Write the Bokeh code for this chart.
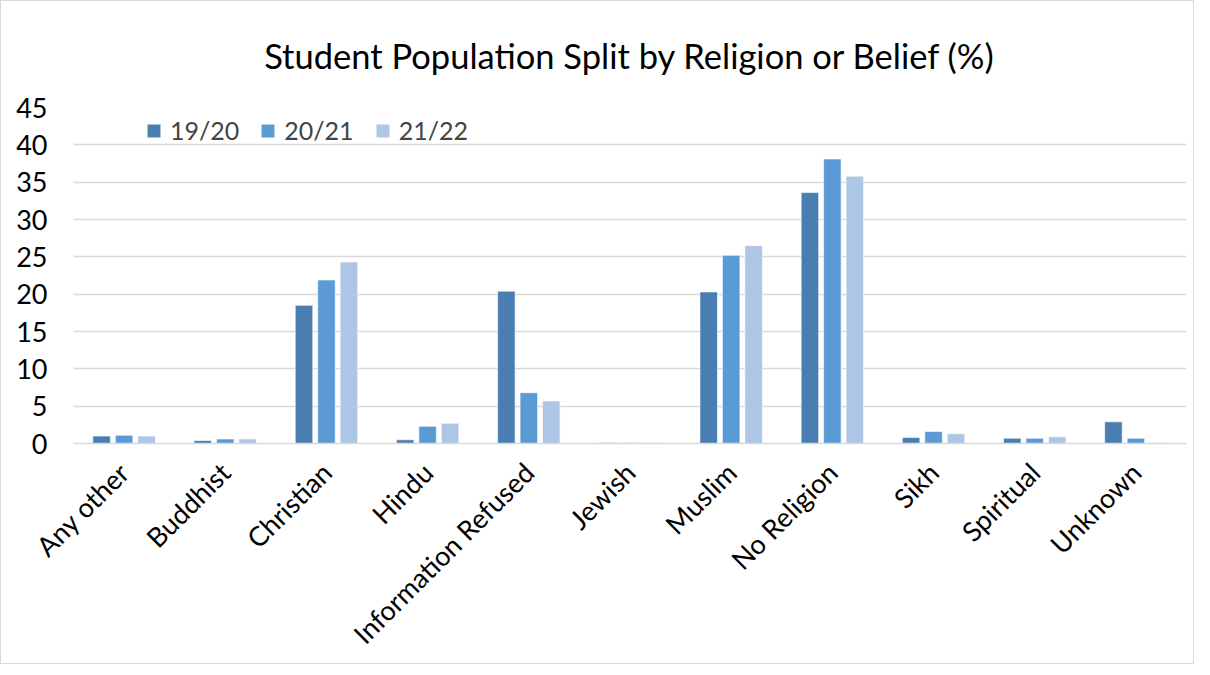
import math
from bokeh.plotting import figure
from bokeh.models import ColumnDataSource, Legend, LegendItem, FactorRange
from bokeh.transform import dodge
from bokeh.embed import file_html
from bokeh.resources import INLINE

categories = ["Any other", "Buddhist", "Christian", "Hindu", "Information Refused",
              "Jewish", "Muslim", "No Religion", "Sikh", "Spiritual", "Unknown"]
y1920 = [1.0, 0.4, 18.5, 0.5, 20.4, 0.1, 20.3, 33.6, 0.8, 0.7, 2.9]
y2021 = [1.1, 0.6, 21.9, 2.3, 6.8, 0.1, 25.2, 38.1, 1.6, 0.7, 0.7]
y2122 = [1.0, 0.6, 24.3, 2.7, 5.7, 0.1, 26.5, 35.8, 1.3, 0.9, 0.1]
series_names = ["19/20", "20/21", "21/22"]
colors = ["#4a7eb0", "#5b9bd5", "#adc6e6"]

src = ColumnDataSource(dict(cat=categories, a=y1920, b=y2021, c=y2122))

FONT = "Lato"
p = figure(x_range=FactorRange(*categories), y_range=(0, 45),
           width=1194, height=664, output_backend="svg", toolbar_location=None,
           min_border_left=72, min_border_right=9, min_border_top=106, min_border_bottom=222)
p.styles = {"border": "1px solid #d9d9d9"}

p.title.text = "Student Population Split by Religion or Belief (%)"
p.title.align = "center"
p.title.text_font = FONT
p.title.text_font_size = "34.5px"
p.title.text_font_style = "normal"
p.title.text_color = "#000000"
p.title.standoff = 63

renderers = []
for key, off, col in zip(["a", "b", "c"], [-0.222, 0.0, 0.222], colors):
    r = p.vbar(x=dodge("cat", off, range=p.x_range), top=key, width=0.173, source=src,
               fill_color=col, line_color="white", line_width=0.6)
    renderers.append(r)

legend = Legend(items=[LegendItem(label=n, renderers=[r]) for n, r in zip(series_names, renderers)],
                orientation="horizontal", location=(72, 298))
legend.label_text_font = FONT
legend.label_text_font_size = "25px"
legend.glyph_width = 17
legend.glyph_height = 17
legend.label_standoff = 8
legend.spacing = 20
legend.padding = 5
legend.margin = 0
legend.border_line_color = None
legend.background_fill_alpha = 0
p.add_layout(legend)

p.xgrid.grid_line_color = None
p.ygrid.grid_line_color = "#d9d9d9"
p.ygrid.grid_line_width = 1.5
p.yaxis.ticker = list(range(0, 50, 5))
p.yaxis.axis_line_color = None
p.yaxis.major_tick_line_color = None
p.yaxis.minor_tick_line_color = None
p.yaxis.major_label_text_font = FONT
p.yaxis.major_label_text_font_size = "27px"
p.yaxis.major_label_text_color = "#000000"
p.yaxis.major_label_standoff = 20

p.xaxis.axis_line_color = "#d9d9d9"
p.xaxis.axis_line_width = 1.5
p.xaxis.major_tick_line_color = None
p.xaxis.minor_tick_line_color = None
p.xaxis.major_label_orientation = math.pi / 4
p.xaxis.major_label_text_font = FONT
p.xaxis.major_label_text_font_size = "27px"
p.xaxis.major_label_text_color = "#000000"
p.xaxis.major_label_standoff = 18
p.outline_line_color = None
p.x_range.range_padding = 0
p.x_range.group_padding = 0

open("out.html", "w").write(file_html(p, INLINE))
